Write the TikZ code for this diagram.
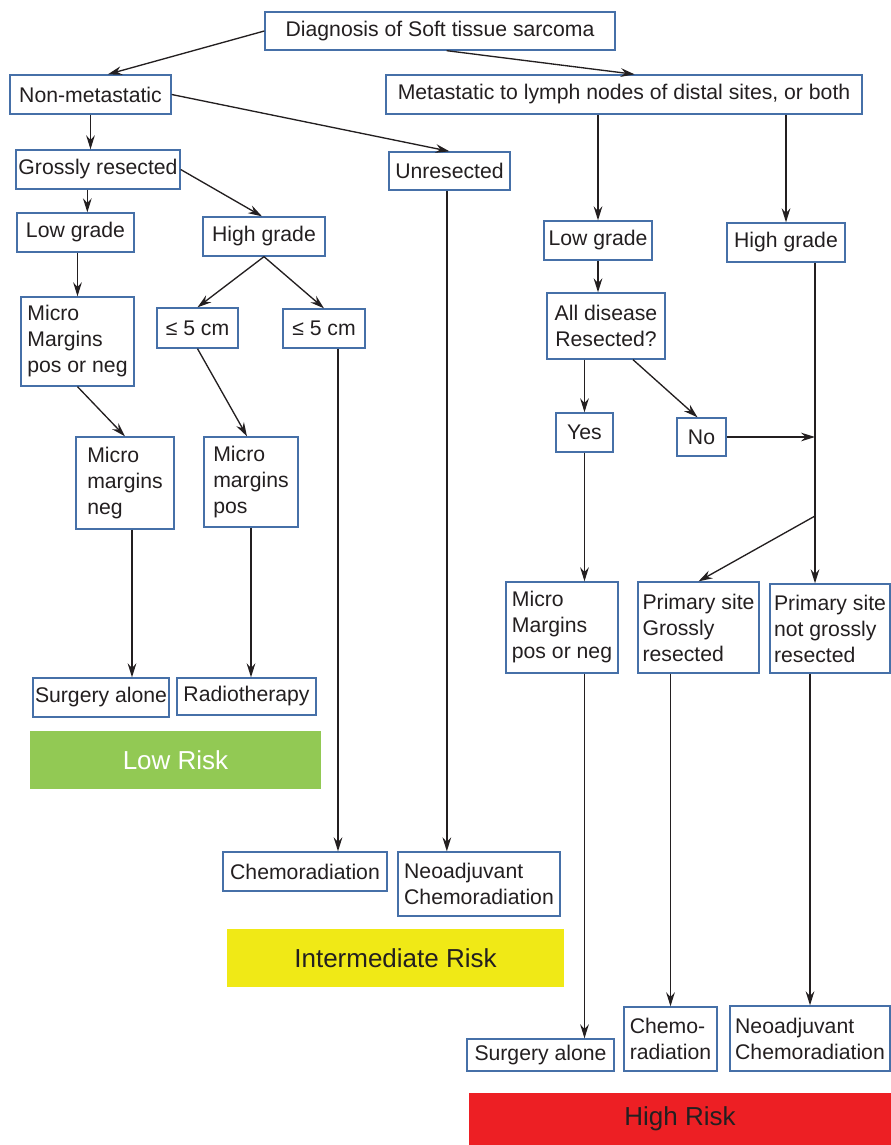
\documentclass[tikz,border=0pt]{standalone}
\usepackage{fontspec}
\setmainfont{Liberation Sans}
\usetikzlibrary{arrows.meta}

\definecolor{boxblue}{HTML}{4670A8}
\definecolor{inkgray}{HTML}{231F20}
\definecolor{riskgreen}{HTML}{92C954}
\definecolor{riskyellow}{HTML}{F0E916}
\definecolor{riskred}{HTML}{ED1F24}

\tikzset{every picture/.style={line width=0.75pt}}
\tikzset{
  box/.style={draw=boxblue, line width=1pt, fill=white, text=inkgray, inner sep=0.75pt, align=left, font=\fontsize{15.9}{19.5}\selectfont},
  bsize/.style 2 args={minimum width=#1*0.75pt, minimum height=#2*0.75pt},
  band/.style={inner sep=0pt, font=\fontsize{19.5}{23}\selectfont},
  arr/.style={draw=inkgray, line width=1pt, -{Stealth[length=10.5pt,width=6.5pt,inset=3.5pt]}},
  ln/.style={draw=inkgray, line width=1pt}
}

\begin{document}
\begin{tikzpicture}[x=0.75pt,y=0.75pt,yscale=-1,xscale=1]
\useasboundingbox (0,0) rectangle (891,1145);

% Text Node
\node [box, bsize={350}{38}] (diag) at (440,31) {Diagnosis of Soft tissue sarcoma};
% Text Node
\node [box, bsize={161}{39}] (nonmet) at (90.5,94.5) {Non-metastatic};
% Text Node
\node [box, bsize={476}{39}] (met) at (624,94.5) {Metastatic to lymph nodes of distal sites, or both};
% Text Node
\node [box, bsize={164}{39}] (gross) at (98,169.5) {Grossly resected};
% Text Node
\node [box, bsize={121}{38}] (unres) at (449.5,171) {Unresected};

% Text Node
\node [box, bsize={117}{39}] (lowL) at (75.5,232.5) {Low grade};
% Text Node
\node [box, bsize={122}{39}] (highL) at (264,236.5) {High grade};
% Text Node
\node [box, bsize={113}{89}] (mmL) at (77.5,341.5) {Micro\\Margins\\pos or neg};
% Text Node
\node [box, bsize={81}{40}] (le1) at (197.5,328) {≤ 5 cm};
% Text Node
\node [box, bsize={82}{39}] (le2) at (324,328.5) {≤ 5 cm};
% Text Node
\node [box, bsize={98}{92}] (mneg) at (125,483) {Micro\\margins\\neg};
% Text Node
\node [box, bsize={94}{90}] (mpos) at (251,482) {Micro\\margins\\pos};

% Text Node
\node [box, bsize={108}{39}] (lowR) at (598,240.5) {Low grade};
% Text Node
\node [box, bsize={118}{39}] (highR) at (786,242.5) {High grade};
% Text Node
\node [box, bsize={118}{66}, align=center] (alldis) at (606,326) {All disease\\Resected?};
% Text Node
\node [box, bsize={57}{39}] (yes) at (584.5,432.5) {Yes};
% Text Node
\node [box, bsize={49}{38}] (no) at (701.5,437) {No};
% Text Node
\node [box, bsize={112}{91}] (mmR) at (562,627.5) {Micro\\Margins\\pos or neg};
% Text Node
\node [box, bsize={121}{91}] (psg) at (698.5,627.5) {Primary site\\Grossly\\resected};
% Text Node
\node [box, bsize={120}{89}] (psng) at (830,628.5) {Primary site\\not grossly\\resected};

% Text Node
\node [box, bsize={136}{39}] (surgL) at (101,697.5) {Surgery alone};
% Text Node
\node [box, bsize={139}{37}] (radio) at (246.5,696.5) {Radiotherapy};
% Text Node
\node [box, bsize={164}{39}] (chemM) at (305,871.5) {Chemoradiation};
% Text Node
\node [box, bsize={162}{64}] (neoM) at (479,884) {Neoadjuvant\\Chemoradiation};
% Text Node
\node [box, bsize={147}{32}] (surgR) at (540.5,1055) {Surgery alone};
% Text Node
\node [box, bsize={93}{64}] (chemR) at (670.5,1039) {Chemo-\\radiation};
% Text Node
\node [box, bsize={160}{65}] (neoR) at (810,1038.5) {Neoadjuvant\\Chemoradiation};

% Risk bands
\node [band, bsize={291}{58}, fill=riskgreen, text=white] (lowrisk) at (175.5,760) {Low Risk};
\node [band, bsize={337}{58}, fill=riskyellow, text=inkgray] (midrisk) at (395.5,958) {Intermediate Risk};
\node [band, bsize={422}{52}, fill=riskred, text=inkgray] (highrisk) at (680,1119) {High Risk};

% trunk on the right
\coordinate (trunk) at ([xshift=21.75pt]highR.south);
\coordinate (fork) at (815,516);

%Straight Lines
\draw [arr] (diag.west) -- ([xshift=13pt]nonmet.north);
\draw [arr] ([xshift=5pt]diag.south) -- ([xshift=8pt]met.north);
\draw [arr] (nonmet.east) -- (unres.north);
\draw [arr] (nonmet.south) -- (nonmet.south |- gross.north);
\draw [arr] ([xshift=-8pt]gross.south) -- ([xshift=-8pt]gross.south |- lowL.north);
\draw [arr] (gross.east) -- ([xshift=-1.5pt]highL.north);
%Straight Lines
\draw [arr] (mmL.north |- lowL.south) -- (mmL.north);
\draw [arr] (highL.south) -- (le1.north);
\draw [arr] (highL.south) -- (le2.north);
\draw [arr] (mmL.south) -- (mneg.north);
\draw [arr] (le1.south) -- ([xshift=-3pt]mpos.north);
\draw [arr] ([xshift=5.25pt]mneg.south) -- ([xshift=5.25pt]mneg.south |- surgL.north);
\draw [arr] (mpos.south) -- (mpos.south |- radio.north);
\draw [arr] ([xshift=10.5pt]le2.south) -- ([xshift=10.5pt]le2.south |- chemM.north);
\draw [arr] ([xshift=-2pt]unres.south) -- ([xshift=-2pt]unres.south |- neoM.north);
%Straight Lines
\draw [arr] (lowR.north |- met.south) -- (lowR.north);
\draw [arr] (highR.north |- met.south) -- (highR.north);
\draw [arr] (lowR.south) -- (lowR.south |- alldis.north);
\draw [arr] (yes.north |- alldis.south) -- (yes.north);
\draw [arr] ([xshift=20.25pt]alldis.south) -- ([xshift=-3pt]no.north);
\draw [arr] (trunk) -- (trunk |- psng.north);
\draw [arr] (no.east) -- (no.east -| trunk);
\draw [arr] (fork) -- (psg.north);
\draw [arr] (yes.south) -- (yes.south |- mmR.north);
\draw [arr] (yes.south |- mmR.south) -- (yes.south |- surgR.north);
\draw [arr] (chemR.north |- psg.south) -- (chemR.north);
\draw [arr] (neoR.north |- psng.south) -- (neoR.north);

\end{tikzpicture}
\end{document}
